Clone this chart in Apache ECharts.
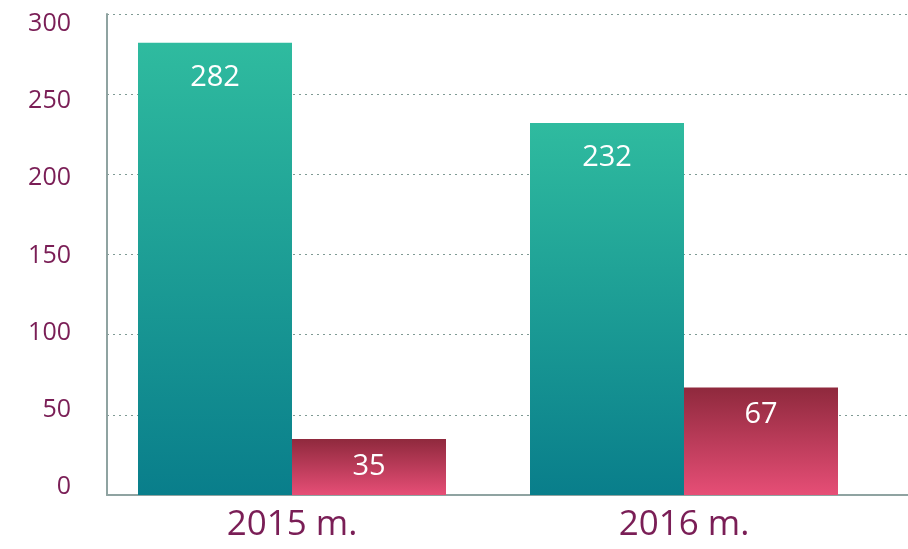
<!DOCTYPE html>
<html>
<head>
<meta charset="utf-8">
<script src="https://cdn.jsdelivr.net/npm/echarts@6/dist/echarts.min.js"></script>
<style>html,body{margin:0;padding:0;background:#fff}#c{width:908px;height:549px}</style>
</head>
<body>
<div id="c"></div>
<script>
var categories = ['2015 m.', '2016 m.'];
var seriesA = [282, 232];
var seriesB = [35, 67];
var yTicks = [0, 50, 100, 150, 200, 250, 300];

var chart = echarts.init(document.getElementById('c'));
var font = '"Open Sans", "Noto Sans", sans-serif';
var purple = '#7a1e56';
var yMin = yTicks[0], yMax = yTicks[yTicks.length - 1], yStep = yTicks[1] - yTicks[0];
chart.setOption({
  animation: false,
  grid: [
    {left: 107, right: 0, top: 14, bottom: 54},
    {left: 96, width: 784, top: 14, bottom: 54},
    {left: 107, right: 0, top: 24, bottom: 62}
  ],
  xAxis: [
    {gridIndex: 0, type: 'category', data: categories, axisLine: {lineStyle: {color: '#8fa3a1', width: 2}}, axisTick: {show: false}, axisLabel: {show: false}, splitLine: {show: false}},
    {gridIndex: 1, type: 'category', data: categories, axisLine: {show: false}, axisTick: {show: false},
     axisLabel: {color: purple, fontSize: 35, fontFamily: font, margin: 13}},
    {gridIndex: 2, type: 'category', data: categories, show: false}
  ],
  yAxis: [
    {gridIndex: 0, type: 'value', min: yMin, max: yMax, interval: yStep,
     axisLine: {show: true, lineStyle: {color: '#8fa3a1', width: 2}}, axisTick: {show: false},
     axisLabel: {show: false},
     splitLine: {lineStyle: {type: [2, 4], color: '#7f9a94', width: 1}}},
    {gridIndex: 1, type: 'value', min: yMin, max: yMax, show: false, splitLine: {show: false}},
    {gridIndex: 2, type: 'value', min: yMin, max: yMax, interval: yStep,
     axisLine: {show: false}, axisTick: {show: false}, splitLine: {show: false},
     axisLabel: {color: purple, fontSize: 25, fontFamily: font, margin: 36}}
  ],
  series: [
    {type: 'bar', xAxisIndex: 1, yAxisIndex: 1, data: seriesA, barWidth: 154, barGap: '0%',
     itemStyle: {color: new echarts.graphic.LinearGradient(0, 0, 0, 1, [{offset: 0, color: '#2fbb9f'}, {offset: 1, color: '#097e8b'}], false)},
     label: {show: true, position: 'insideTop', distance: 20, color: '#fff', fontSize: 29, fontFamily: font}},
    {type: 'bar', xAxisIndex: 1, yAxisIndex: 1, data: seriesB, barWidth: 154, barGap: '0%',
     itemStyle: {color: new echarts.graphic.LinearGradient(0, 0, 0, 1, [{offset: 0, color: '#8f293d'}, {offset: 1, color: '#e64e76'}], false)},
     label: {show: true, position: 'insideTop', distance: 13, color: '#fff', fontSize: 29, fontFamily: font}}
  ]
});
</script>
</body>
</html>
